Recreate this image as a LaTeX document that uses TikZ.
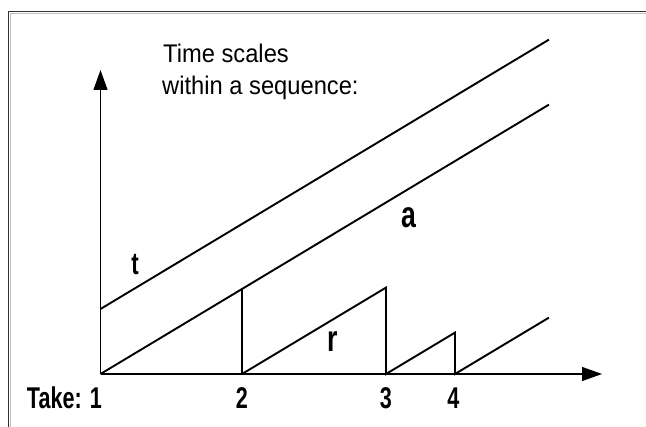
\documentclass[tikz,border=0pt]{standalone}
\usepackage{fontspec}
\setmainfont{Liberation Sans}[FakeStretch=0.93]
\newfontfamily\labfont{Liberation Sans}[FakeStretch=0.72]
\usetikzlibrary{arrows.meta}
\begin{document}
\begin{tikzpicture}[x=1pt,y=-1pt,
  axis/.style={line width=1.1pt,-{Triangle[length=20pt,width=14pt]}},
  ramp/.style={line width=1.9pt,line join=miter},
  title/.style={anchor=base west,inner sep=0pt,font=\fontsize{25.5}{30}\selectfont},
  tick/.style={anchor=base,inner sep=0pt,font=\labfont\bfseries\fontsize{30}{36}\selectfont},
  curve/.style={anchor=center,inner sep=0pt,font=\labfont\bfseries\fontsize{37}{40}\selectfont}]
\useasboundingbox (0,0) rectangle (646,427);
% frame (top and left edges)
\coordinate (fTL) at (8.3,11.5);
\coordinate (fTR) at (646,11.5);
\coordinate (fBL) at (8.3,427);
\draw[black!80,line width=1.4pt] (fBL) -- (fTL) -- (fTR);
\draw[black!25,line width=0.8pt] (10,427) -- (10,13.2) -- (646,13.2);
% axes
\coordinate (O) at (100.5,374);
\coordinate (Ytip) at (100.5,70);
\coordinate (Xtip) at (602,374);
\draw[axis] (O) -- (Ytip);
\draw[axis] (O) -- (Xtip);
% points
\coordinate (t0) at (100.5,309);
\coordinate (t1) at (549,39.6);
\coordinate (a1) at (549,104.6);
\coordinate (b2) at (242,374);
\coordinate (p2) at (242,288.8);
\coordinate (b3) at (386,374);
\coordinate (p3) at (386,287.6);
\coordinate (b4) at (455,374);
\coordinate (p4) at (455,332.6);
\coordinate (e5) at (549,317.6);
% lines
\draw[ramp] (t0) -- (t1);
\draw[ramp] (O) -- (a1);
\draw[ramp] (b2) -- (p2);
\draw[ramp] (b2) -- (p3) -- (b3) -- (p4) -- (b4) -- (e5);
% texts
\node[title] (ti1) at (163,62.3) {Time scales};
\node[title] (ti2) at (162,95) {within a sequence:};
\node[tick,anchor=base east] (k1) at (102,408.3) {Take: 1};
\node[tick] (k2) at (242,408.3) {2};
\node[tick] (k3) at (386,408.3) {3};
\node[tick] (k4) at (453.5,408.3) {4};
\node[curve,font=\labfont\bfseries\fontsize{31}{34}\selectfont] (lt) at (135,265) {t};
\node[curve] (la) at (408.8,218) {a};
\node[curve] (lr) at (332.5,341.7) {r};
\end{tikzpicture}
\end{document}
